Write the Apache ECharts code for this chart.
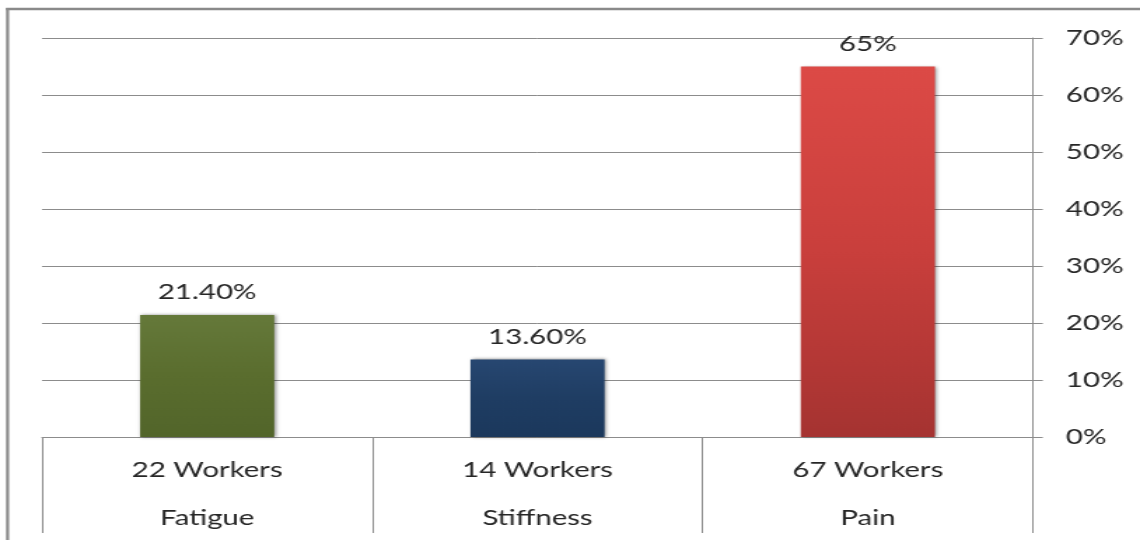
<!DOCTYPE html>
<html>
<head>
<meta charset="utf-8">
<script src="https://cdn.jsdelivr.net/npm/echarts@6/dist/echarts.min.js"></script>
<style>
  html, body { margin: 0; padding: 0; background: #ffffff; overflow: hidden; }
  #wrap { width: 1140px; height: 542px; overflow: hidden; position: relative; }
  /* the chart is laid out narrower and stretched horizontally to the full width */
  #chart { width: 814px; height: 542px; transform: scaleX(1.4005); transform-origin: 0 0; }
</style>
</head>
<body>
<div id="wrap"><div id="chart"></div></div>
<script>
// Symptoms reported and share of workers affected
const workers = ['22 Workers', '14 Workers', '67 Workers'];
const symptoms = ['Fatigue', 'Stiffness', 'Pain'];
const shares = [21.4, 13.6, 65];
const shareLabels = ['21.40%', '13.60%', '65%'];
const yTicks = [0, 10, 20, 30, 40, 50, 60, 70];

// bar fills: [top, body, bottom]
const barColors = [
  ['#65793a', '#5a6d2e', '#52652a'],
  ['#274771', '#1f3d63', '#1b385c'],
  ['#dc4a46', '#c93f3c', '#a53331']
];

const FONT = 'Lato, "Open Sans", sans-serif';
const TEXT = '#262626';
const LINE = '#8c8c8c';

function barStyle(i) {
  const c = barColors[i];
  return {
    color: {
      type: 'linear', x: 0, y: 0, x2: 0, y2: 1,
      colorStops: [
        { offset: 0, color: c[0] },
        { offset: 0.5, color: c[1] },
        { offset: 1, color: c[2] }
      ]
    },
    borderWidth: 0,
    shadowColor: 'rgba(0,0,0,0.45)',
    shadowBlur: 3,
    shadowOffsetX: 1,
    shadowOffsetY: 0
  };
}

const chart = echarts.init(document.getElementById('chart'));
chart.setOption({
  animation: false,
  backgroundColor: '#ffffff',
  grid: { left: 30, right: 76.4, top: 38, bottom: 105, containLabel: false },
  xAxis: {
    type: 'category',
    data: symptoms,
    boundaryGap: true,
    axisLine: { show: true, lineStyle: { color: LINE, width: 1 } },
    axisTick: { show: true, interval: 0, length: 96, lineStyle: { color: LINE, width: 1 } },
    axisLabel: {
      interval: 0,
      margin: 9,
      color: TEXT,
      fontFamily: FONT,
      fontSize: 21,
      lineHeight: 48,
      formatter: function (value, idx) { return workers[idx] + '\n' + symptoms[idx]; }
    }
  },
  yAxis: {
    type: 'value',
    position: 'right',
    min: 0,
    max: 70,
    interval: 10,
    axisLine: { show: true, lineStyle: { color: LINE, width: 1 } },
    axisTick: { show: true, length: 7, lineStyle: { color: LINE, width: 1 } },
    splitLine: { show: true, lineStyle: { color: LINE, width: 1 } },
    axisLabel: {
      margin: 23.5,
      color: TEXT,
      fontFamily: FONT,
      fontSize: 21,
      formatter: function (v) { return yTicks.indexOf(v) >= 0 ? v + '%' : ''; }
    }
  },
  series: [{
    type: 'bar',
    barWidth: '40.6%',
    data: shares.map(function (v, i) {
      return { value: v, itemStyle: barStyle(i) };
    }),
    label: {
      show: true,
      position: 'top',
      distance: 12,
      color: TEXT,
      fontFamily: FONT,
      fontSize: 21,
      formatter: function (p) { return shareLabels[p.dataIndex]; }
    }
  }],
  graphic: [
    // chart frame: top and left edges
    { type: 'line', shape: { x1: 4.3, y1: 9, x2: 814, y2: 9 },
      style: { stroke: '#8a8a8a', lineWidth: 2.5 }, silent: true },
    { type: 'line', shape: { x1: 5.4, y1: 8, x2: 5.4, y2: 540 },
      style: { stroke: '#8a8a8a', lineWidth: 2.2 }, silent: true }
  ]
});
</script>
</body>
</html>
